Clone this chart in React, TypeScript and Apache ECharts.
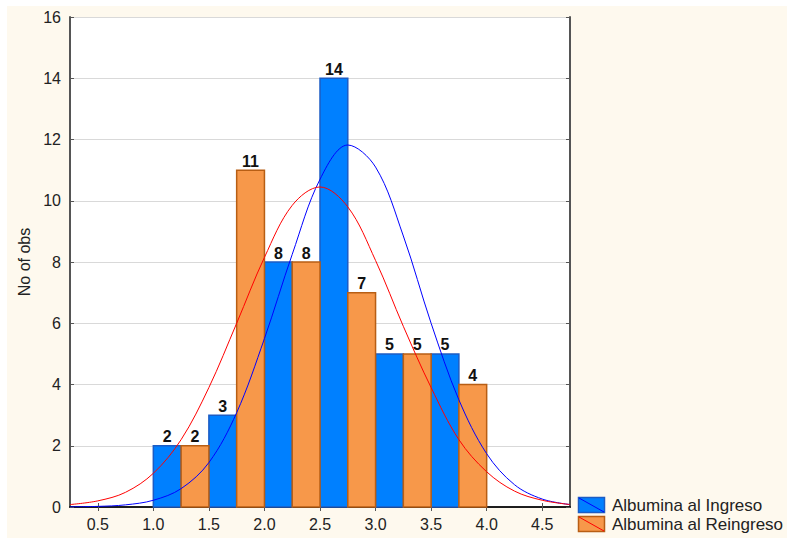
import React, { useEffect, useRef } from "react";
import * as echarts from "echarts";

// Histogram bins (start of each 0.5-wide bin) and counts
const binStarts = [1.0, 1.5, 2.0, 2.5, 3.0, 3.5];
const binWidth = 0.5;
const ingresoCounts = [2, 3, 8, 14, 5, 5];
const reingresoCounts = [2, 11, 8, 7, 5, 4];

// Fitted curves
const curveX = [0.25, 0.5, 0.75, 1.0, 1.25, 1.5, 1.75, 2.0, 2.25, 2.5, 2.75, 3.0, 3.25, 3.5, 3.75, 4.0, 4.25, 4.5, 4.75];
const ingresoCurve = [0.005, 0.02, 0.07, 0.22, 0.6, 1.45, 3.08, 5.5, 8.25, 10.7, 11.82, 11.1, 8.85, 6.0, 3.5, 1.74, 0.73, 0.26, 0.08];
const reingresoCurve = [0.08, 0.2, 0.48, 1.1, 2.2, 3.9, 6.0, 8.15, 9.85, 10.45, 9.8, 8.05, 5.9, 3.9, 2.2, 1.15, 0.52, 0.22, 0.08];

const xTicks = [0.5, 1.0, 1.5, 2.0, 2.5, 3.0, 3.5, 4.0, 4.5];
const legendNames = ["Albumina al Ingreso", "Albumina al Reingreso"];

const FONT = '"Liberation Sans", Arial, sans-serif';
const BLUE_FILL = "#0080ff";
const BLUE_EDGE = "#1c5cc4";
const ORANGE_FILL = "#f7984a";
const ORANGE_EDGE = "#b85e14";

export default function App() {
  const ref = useRef<HTMLDivElement>(null);
  useEffect(() => {
    document.body.style.margin = "0";
    const chart = echarts.init(ref.current!, null, { renderer: "svg" });

    const makeRender = (half: number, fill: string, stroke: string) => (params: any, api: any) => {
      const start = api.value(0) as number;
      const count = api.value(1) as number;
      const x0 = start + (half * binWidth) / 2;
      const x1 = x0 + binWidth / 2;
      const p0 = api.coord([x0, count]);
      const p1 = api.coord([x1, 0]);
      return {
        type: "group",
        children: [
          {
            type: "rect",
            shape: { x: p0[0], y: p0[1], width: p1[0] - p0[0], height: p1[1] - p0[1] },
            style: { fill, stroke, lineWidth: 1.5 },
          },
          {
            type: "text",
            style: {
              text: String(count),
              x: (p0[0] + p1[0]) / 2,
              y: p0[1] - 1,
              align: "center",
              verticalAlign: "bottom",
              font: `bold 16px ${FONT}`,
              fill: "#111",
            },
          },
        ],
      };
    };

    const xAxisBase = {
      type: "value",
      min: 0.25,
      max: 4.75,
      splitLine: { show: false },
    };
    const yAxisBase = {
      type: "value",
      min: 0,
      max: 16,
      interval: 2,
    };

    const legendY = [505, 524];
    const legendGraphics: any[] = [];
    legendNames.forEach((name, i) => {
      const fill = i === 0 ? BLUE_FILL : ORANGE_FILL;
      const edge = i === 0 ? BLUE_EDGE : ORANGE_EDGE;
      const line = i === 0 ? "#0000ff" : "#ff0000";
      const cy = legendY[i];
      legendGraphics.push(
        { type: "rect", shape: { x: 578.5, y: cy - 7.5, width: 26, height: 15 }, style: { fill, stroke: edge, lineWidth: 1.5 } },
        { type: "line", shape: { x1: 579, y1: cy - 7, x2: 604, y2: cy + 7 }, style: { stroke: line, lineWidth: 1 } },
        { type: "text", style: { text: name, x: 612, y: cy, verticalAlign: "middle", font: `17px ${FONT}`, fill: "#222" } }
      );
    });

    chart.setOption({
      animation: false,
      backgroundColor: "transparent",
      graphic: [
        { type: "rect", z: -10, silent: true, shape: { x: 7, y: 6, width: 780, height: 532 }, style: { fill: "#fef9ee" } },
        { type: "rect", z: -9, silent: true, shape: { x: 70, y: 17, width: 500, height: 490 }, style: { fill: "#ffffff" } },
        ...legendGraphics,
      ],
      grid: { left: 70, top: 17, right: 217, bottom: 31, containLabel: false },
      xAxis: [
        {
          ...xAxisBase,
          position: "bottom",
          axisLine: { show: true, lineStyle: { color: "#111", width: 1.5 } },
          axisTick: { show: true, inside: true, length: 4, customValues: xTicks, lineStyle: { color: "#555" } },
          axisLabel: {
            show: true,
            customValues: xTicks,
            formatter: (v: number) => v.toFixed(1),
            fontFamily: FONT,
            fontSize: 16,
            color: "#222",
            margin: 9,
          },
        },
        {
          ...xAxisBase,
          position: "top",
          axisLine: { show: true, lineStyle: { color: "#111", width: 1.5 } },
          axisTick: { show: true, inside: true, length: 4, customValues: xTicks, lineStyle: { color: "#555" } },
          axisLabel: { show: false },
        },
      ],
      yAxis: [
        {
          ...yAxisBase,
          position: "left",
          name: "No of obs",
          nameLocation: "middle",
          nameRotate: 90,
          nameGap: 38,
          nameTextStyle: { fontFamily: FONT, fontSize: 16, color: "#222" },
          axisLine: { show: true, lineStyle: { color: "#555", width: 2 } },
          axisTick: { show: true, inside: true, length: 4, lineStyle: { color: "#555" } },
          axisLabel: { fontFamily: FONT, fontSize: 16, color: "#222", margin: 9 },
          splitLine: { show: true, lineStyle: { color: "#d9d9d9", width: 1 } },
        },
        {
          ...yAxisBase,
          position: "right",
          axisLine: { show: true, lineStyle: { color: "#555", width: 2 } },
          axisTick: { show: true, inside: true, length: 4, lineStyle: { color: "#555" } },
          axisLabel: { show: false },
          splitLine: { show: false },
        },
      ],
      series: [
        {
          type: "custom",
          name: legendNames[0],
          renderItem: makeRender(0, BLUE_FILL, BLUE_EDGE),
          data: binStarts.map((b, i) => [b, ingresoCounts[i]]),
          encode: { x: 0, y: 1 },
          z: 2,
        },
        {
          type: "custom",
          name: legendNames[1],
          renderItem: makeRender(1, ORANGE_FILL, ORANGE_EDGE),
          data: binStarts.map((b, i) => [b, reingresoCounts[i]]),
          encode: { x: 0, y: 1 },
          z: 2,
        },
        {
          type: "line",
          data: curveX.map((x, i) => [x, ingresoCurve[i]]),
          smooth: 0.35,
          symbol: "none",
          lineStyle: { color: "#0000ff", width: 1 },
          z: 5,
        },
        {
          type: "line",
          data: curveX.map((x, i) => [x, reingresoCurve[i]]),
          smooth: 0.35,
          symbol: "none",
          lineStyle: { color: "#ff0000", width: 1 },
          z: 5,
        },
      ],
    });
    return () => chart.dispose();
  }, []);
  return <div ref={ref} style={{ width: 787, height: 538, background: "#ffffff" }} />;
}
